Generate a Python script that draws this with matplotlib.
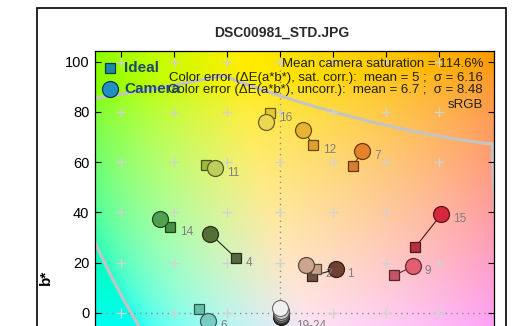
import numpy as np
import matplotlib
matplotlib.use("Agg")
import matplotlib.pyplot as plt
from matplotlib.patches import Rectangle

plt.rcParams['font.family'] = ['Liberation Sans', 'DejaVu Sans']

# ColorChecker patches shown in the a*b* window
patch_ids = ["1", "2", "4", "6", "7", "9", "11", "12", "14", "15", "16"]
ideal_a = [12.2, 13.5, -16.5, -30.4, 27.7, 43.1, -27.9, 12.6, -41.4, 51.1, -3.9]
ideal_b = [14.6, 17.3, 21.7, 1.4, 58.6, 14.9, 58.8, 66.8, 34.0, 26.1, 79.4]
camera_a = [21.0, 9.8, -26.3, -27.1, 31.1, 50.3, -24.6, 8.8, -45.2, 60.9, -5.4]
camera_b = [17.3, 19.0, 31.4, -3.2, 64.4, 18.5, 57.5, 72.7, 37.3, 39.2, 76.1]
ideal_colors = ["#6e5041", "#c8a087", "#556941", "#64bea9", "#d77d2d", "#c35564",
                "#a0b93c", "#e1a02d", "#469146", "#b4323c", "#e6c828"]
camera_colors = ["#6e4132", "#cda58c", "#556e37", "#78cdc3", "#e6822a", "#e15f6e",
                 "#bece5a", "#e8b232", "#50a050", "#d4283c", "#ebd750"]

# Neutral patches 19-24 (ideal at the origin)
neutral_a = [0.2, 0.3, 0.3, 0.3, 0.4, 0.4]
neutral_b = [1.8, 0.8, 0.0, -0.8, -1.4, -1.8]
neutral_colors = ["#f0f0f0", "#c8c8c8", "#a0a0a0", "#7a7a79", "#555555", "#343434"]
neutral_label = "19-24"

title = "DSC00981_STD.JPG"
info_lines = ["Mean camera saturation = 114.6%",
              "Color error (\u0394E(a*b*), sat. corr.):  mean = 5 ;  \u03c3 = 6.16",
              "Color error (\u0394E(a*b*), uncorr.):  mean = 6.7 ;  \u03c3 = 8.48",
              "sRGB"]
y_ticks = [0, 20, 40, 60, 80, 100]
x_ticks = [-60, -40, -20, 0, 20, 40, 60]
xlim = (-69.8, 80.8)
ylim = (-10, 104.4)


def lab_to_srgb(L, a, b):
    fy = (L + 16) / 116
    fx = fy + a / 500
    fz = fy - b / 200

    def finv(t):
        return np.where(t > 6 / 29, t ** 3, 3 * (6 / 29) ** 2 * (t - 4 / 29))

    X = 0.95047 * finv(fx)
    Y = finv(fy)
    Z = 1.08883 * finv(fz)
    M = np.array([[3.2406, -1.5372, -0.4986],
                  [-0.9689, 1.8758, 0.0415],
                  [0.0557, -0.2040, 1.0570]])
    lin = np.stack([X, Y, Z], axis=-1) @ M.T
    lin = np.clip(lin, 0, 1)
    return np.where(lin <= 0.0031308, 12.92 * lin, 1.055 * lin ** (1 / 2.4) - 0.055)


def srgb_to_ab(rgb):
    rgb = np.asarray(rgb, dtype=float)
    lin = np.where(rgb <= 0.04045, rgb / 12.92, ((rgb + 0.055) / 1.055) ** 2.4)
    M = np.array([[0.4124, 0.3576, 0.1805],
                  [0.2126, 0.7152, 0.0722],
                  [0.0193, 0.1192, 0.9505]])
    xyz = lin @ M.T
    xyz = xyz / np.array([0.95047, 1.0, 1.08883])

    def f(t):
        return np.where(t > (6 / 29) ** 3, np.cbrt(t), t / (3 * (6 / 29) ** 2) + 4 / 29)

    fx, fy, fz = f(xyz[:, 0]), f(xyz[:, 1]), f(xyz[:, 2])
    return 500 * (fx - fy), 200 * (fy - fz)


# sRGB gamut outline: edges of the RGB cube through R-Y-G-C-B-M-R
corners = np.array([[1, 0, 0], [1, 1, 0], [0, 1, 0], [0, 1, 1],
                    [0, 0, 1], [1, 0, 1], [1, 0, 0]], dtype=float)
t = np.linspace(0, 1, 80)[:, None]
edge_rgb = np.vstack([corners[i] + t * (corners[i + 1] - corners[i]) for i in range(6)])
gamut_a, gamut_b = srgb_to_ab(edge_rgb)

W, H = 515, 326
fig = plt.figure(figsize=(W / 100, H / 100), dpi=100)
fig.patch.set_facecolor("white")

ax_top_px, ax_left_px, ax_right_px = 50.7, 95, 494
ax_h_px = (ylim[1] - ylim[0]) * 2.51
ax = fig.add_axes([ax_left_px / W, (H - ax_top_px - ax_h_px) / H,
                   (ax_right_px - ax_left_px) / W, ax_h_px / H])

# background: a*b* plane rendered at constant lightness
ga, gb = np.meshgrid(np.linspace(xlim[0], xlim[1], 400), np.linspace(ylim[1], ylim[0], 320))
bg = lab_to_srgb(np.full_like(ga, 92.5), ga, gb)
ax.imshow(bg, extent=[xlim[0], xlim[1], ylim[0], ylim[1]], aspect="auto",
          interpolation="bilinear", zorder=0)

ax.plot(gamut_a, gamut_b, color="#c4c4c4", lw=2.2, zorder=1)
ax.axvline(0, color="#8c8c9a", lw=1.0, ls=(0, (1, 3)), zorder=1)
ax.axhline(0, color="#8c8c9a", lw=1.0, ls=(0, (1, 3)), zorder=1)

gx, gy = np.meshgrid(x_ticks, y_ticks)
ax.plot(gx.ravel(), gy.ravel(), ls="none", marker="+", ms=7, mew=0.9,
        color="#d2d2d2", zorder=1)


def darker(c, k=0.5):
    r, g, b = matplotlib.colors.to_rgb(c)
    return (r * k, g * k, b * k)


# neutrals: darker ones first so white sits on top
for na, nb, nc in reversed(list(zip(neutral_a, neutral_b, neutral_colors))):
    ax.plot([0], [0], ls="none", marker="s", ms=6.5, mfc=nc, mec=darker(nc, 0.45),
            mew=0.8, zorder=3)
    ax.plot([na], [nb], ls="none", marker="o", ms=11.5, mfc=nc, mec=darker(nc, 0.45),
            mew=0.8, zorder=4)
ax.annotate(neutral_label, (max(neutral_a), neutral_b[-1]), xytext=(11, -6.5),
            textcoords="offset points", color="#808080", fontsize=8.5,
            va="center", ha="left", zorder=5, annotation_clip=False)

for pid, ia, ib, ca, cb, ic, cc in zip(patch_ids, ideal_a, ideal_b, camera_a, camera_b,
                                       ideal_colors, camera_colors):
    ax.plot([ia, ca], [ib, cb], color=darker(cc, 0.4), lw=0.8, zorder=2)
    ax.plot([ia], [ib], ls="none", marker="s", ms=6.5, mfc=ic, mec=darker(ic, 0.45),
            mew=0.9, zorder=3)
    ax.plot([ca], [cb], ls="none", marker="o", ms=11.5, mfc=cc, mec=darker(cc, 0.45),
            mew=0.9, zorder=4)
    if ca >= ia:
        anchor, dx = (ca, cb), 8.5
    else:
        anchor, dx = (ia, ib), 7
    ax.annotate(pid, anchor, xytext=(dx, -3.6), textcoords="offset points",
                color="#808080", fontsize=8.5, va="center", ha="left", zorder=5)

ax.set_xlim(*xlim)
ax.set_ylim(*ylim)
ax.set_xticks(x_ticks)
ax.set_yticks(y_ticks)
ax.set_yticklabels([str(v) for v in y_ticks], fontsize=10.5)
ax.tick_params(direction="in", top=True, right=True, length=4.5, width=0.8, pad=4,
               labelbottom=False)
for s in ax.spines.values():
    s.set_linewidth(0.9)

# legend marks
ax.plot([0.0376], [0.9398], transform=ax.transAxes, ls="none", marker="s", ms=6.5,
        mfc="#1a8aa8", mec="#0a3a50", mew=0.9, zorder=6)
ax.plot([0.0376], [0.8666], transform=ax.transAxes, ls="none", marker="o", ms=11.5,
        mfc="#2390c4", mec="#0a3a50", mew=0.9, zorder=6)
ax.text(0.0727, 0.9398, "Ideal", transform=ax.transAxes, fontsize=11, weight="bold",
        color="#1c4a6e", va="center", ha="left", zorder=6)
ax.text(0.0727, 0.8666, "Camera", transform=ax.transAxes, fontsize=11, weight="bold",
        color="#1c4a6e", va="center", ha="left", zorder=7)

for line, ypx in zip(info_lines, [64, 78, 90.5, 105]):
    ax.text((483 - ax_left_px) / (ax_right_px - ax_left_px), 1 - (ypx - ax_top_px) / ax_h_px,
            line, transform=ax.transAxes, fontsize=9.5, color="#202020",
            va="center", ha="right", zorder=6)

fig.text(282 / W, 1 - 33 / H, title, fontsize=10, weight="bold", color="#2a2a2a",
         ha="center", va="center")
fig.text(46 / W, 1 - 277 / H, "b*", fontsize=11, weight="bold", rotation=90,
         ha="center", va="center")

frame = Rectangle((37 / W, -0.2), (506 - 37) / W, (H - 8) / H + 0.2,
                  transform=fig.transFigure, fill=False, lw=1.2, ec="black")
fig.patches.append(frame)

fig.savefig("out.png", dpi=100)
